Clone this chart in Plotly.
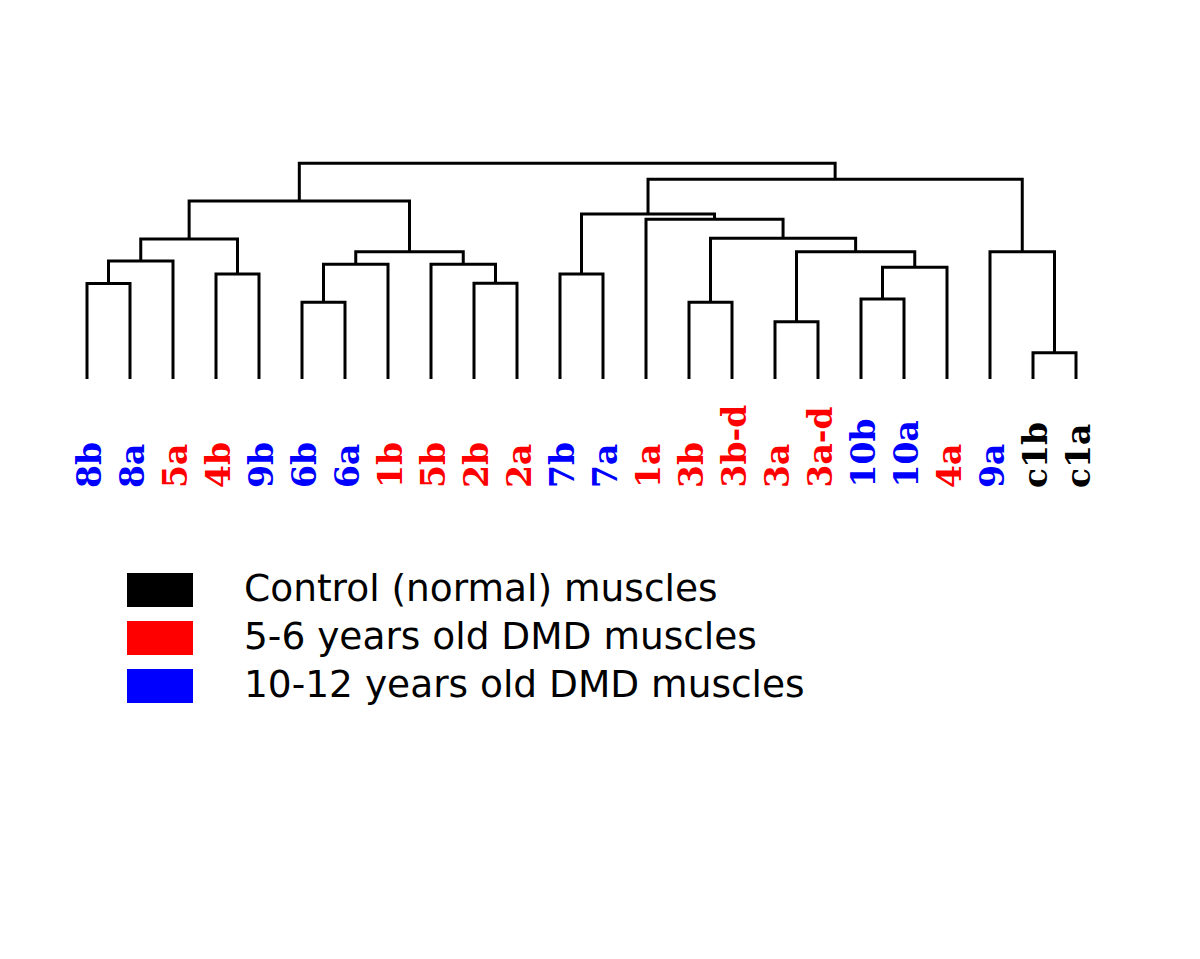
import plotly.graph_objects as go

# ---------------- data ----------------
leaf_labels = ["8b", "8a", "5a", "4b", "9b", "6b", "6a", "1b", "5b", "2b", "2a",
               "7b", "7a", "1a", "3b", "3b-d", "3a", "3a-d", "10b", "10a", "4a",
               "9a", "c1b", "c1a"]
leaf_groups = ["old", "old", "young", "young", "old", "old", "old", "young", "young",
               "young", "young", "old", "old", "young", "young", "young", "young",
               "young", "old", "old", "young", "old", "ctrl", "ctrl"]

# merges: new node name, child a, child b, merge distance
merge_names = ["A", "B", "C", "D", "E", "F", "G", "H", "I", "J",
               "K", "L", "M", "N", "O", "P", "Q", "R", "S", "T", "U", "V", "ROOT"]
merge_a = ["8b", "A", "4b", "B", "6b", "E", "2b", "5b", "F", "D",
           "7b", "3b", "3a", "10b", "N", "M", "L", "1a", "K", "c1b", "9a", "S", "J"]
merge_b = ["8a", "5a", "9b", "C", "6a", "1b", "2a", "G", "H", "I",
           "7a", "3b-d", "3a-d", "10a", "4a", "O", "P", "Q", "R", "c1a", "T", "U", "V"]
merge_height = [0.955, 1.18, 1.05, 1.40, 0.767, 1.147, 0.957, 1.147, 1.273, 1.78,
                1.05, 0.767, 0.573, 0.80, 1.117, 1.273, 1.407, 1.597, 1.65, 0.263,
                1.273, 1.997, 2.157]

group_colors = {"ctrl": "#000000", "young": "#FF0000", "old": "#0000FF"}
legend_labels = ["Control (normal) muscles", "5-6 years old DMD muscles",
                 "10-12 years old DMD muscles"]
legend_keys = ["ctrl", "young", "old"]

# ---------------- build dendrogram ----------------
pos = {name: (i, 0.0) for i, name in enumerate(leaf_labels)}
xs, ys = [], []
for name, a, b, h in zip(merge_names, merge_a, merge_b, merge_height):
    xa, ha = pos[a]
    xb, hb = pos[b]
    xs += [xa, xa, xb, xb, None]
    ys += [ha, h, h, hb, None]
    pos[name] = ((xa + xb) / 2.0, h)

fig = go.Figure()
fig.add_trace(go.Scatter(x=xs, y=ys, mode="lines",
                         line=dict(color="#000000", width=3),
                         hoverinfo="skip", showlegend=False))

# leaf labels (rotated, bottom aligned)
for i, (lab, grp) in enumerate(zip(leaf_labels, leaf_groups)):
    fig.add_annotation(x=i, y=-1.11, xref="x", yref="y", text=lab,
                       textangle=-90, showarrow=False,
                       xanchor="center", yanchor="bottom", xshift=2,
                       font=dict(family="DejaVu Serif", size=33,
                                 color=group_colors[grp], weight="bold"))

# legend
W, H = 1200.0, 959.0
box_top = [573, 621, 669]
for k, (lab, key) in enumerate(zip(legend_labels, legend_keys)):
    t = box_top[k]
    fig.add_shape(type="rect", xref="paper", yref="paper",
                  x0=127 / W, x1=193 / W, y0=1 - t / H, y1=1 - (t + 34) / H,
                  fillcolor=group_colors[key], line=dict(width=0))
    fig.add_annotation(x=242 / W, y=1 - (t + 15) / H, xref="paper", yref="paper",
                       text=lab, showarrow=False, xanchor="left", yanchor="middle",
                       font=dict(family="DejaVu Sans", size=37.5, color="#000000"))

fig.update_layout(
    width=1200, height=959,
    margin=dict(l=0, r=0, t=0, b=0),
    paper_bgcolor="white", plot_bgcolor="white",
    xaxis=dict(range=[-87 / 43, (1200 - 87) / 43], visible=False, fixedrange=True),
    yaxis=dict(range=[-5.80, 3.79], visible=False, fixedrange=True),
    showlegend=False,
)

fig.write_html("out.html", config={"displayModeBar": False},
               post_script="document.body.style.margin='0';")
